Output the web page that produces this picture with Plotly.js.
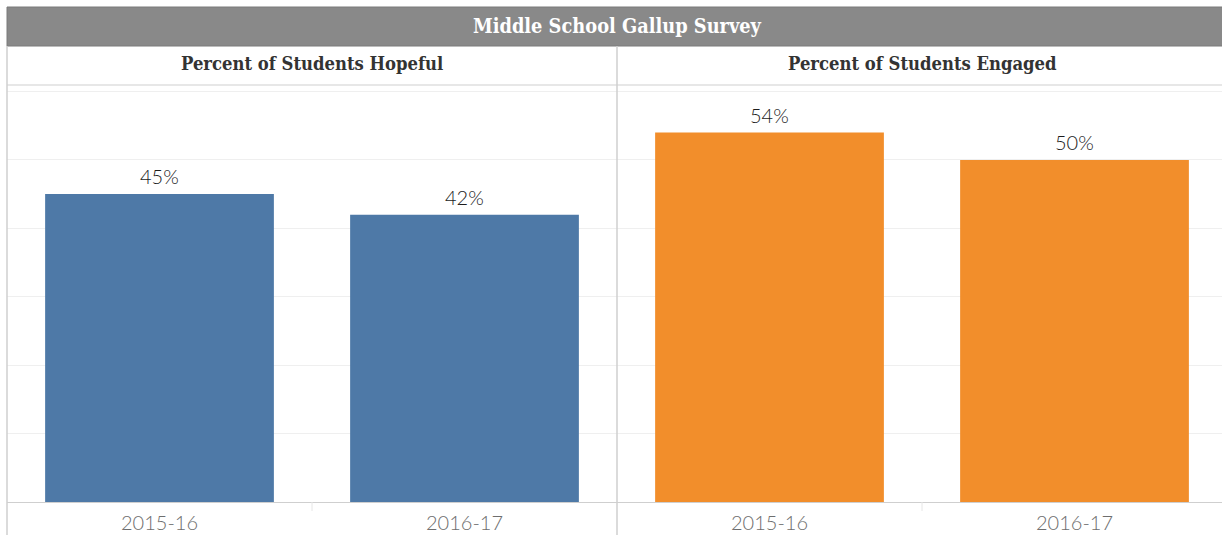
<!DOCTYPE html>
<html>
<head>
<meta charset="utf-8">
<script src="https://cdn.plot.ly/plotly-3.0.1.min.js"></script>
<style>
html,body{margin:0;padding:0;overflow:hidden;background:#fff;}
#chart{width:1227px;height:535px;}
</style>
</head>
<body>
<div id="chart"></div>
<script>
const mainTitle = 'Middle School Gallup Survey';
const panelTitles = ['Percent of Students Hopeful', 'Percent of Students Engaged'];
const categories = ['2015-16', '2016-17'];
const hopeful = [45, 42];
const engaged = [54, 50];
const yTicks = [0, 10, 20, 30, 40, 50, 60];

const labelFont = {family: 'Lato, "Noto Sans", sans-serif', size: 20, color: '#1c1c1c', weight: 300};
const tickFont = {family: 'Lato, "Noto Sans", sans-serif', size: 20, color: '#6e6e6e', weight: 300};
const serifBold = '"DejaVu Serif Condensed", "DejaVu Serif", serif';

const traces = [
  {type: 'bar', x: categories, y: hopeful, xaxis: 'x', yaxis: 'y',
   marker: {color: '#4e79a7'}, width: 0.75, hoverinfo: 'x+y'},
  {type: 'bar', x: categories, y: engaged, xaxis: 'x2', yaxis: 'y2',
   marker: {color: '#f28e2b'}, width: 0.75, hoverinfo: 'x+y'}
];

const plotH = 535 - 86 - 33;
const py = px => (502 - px) / plotH; // convert page y pixel to paper y

const yaxisBase = {range: [0, 60.8], tickvals: yTicks, showticklabels: false,
  showgrid: true, gridcolor: '#efefef', gridwidth: 1, zeroline: false, fixedrange: true};
const xaxisBase = {type: 'category', showline: true, linecolor: '#cfcfcf', linewidth: 1,
  ticks: '', tickfont: tickFont, ticklabelstandoff: 3, showgrid: false, fixedrange: true};

const shapes = [
  {type: 'rect', xref: 'paper', yref: 'paper', x0: 0, x1: 1, y0: py(46), y1: py(7),
   fillcolor: '#898989', line: {color: '#7a7a7a', width: 1}, layer: 'below'},
  {type: 'line', xref: 'paper', yref: 'paper', x0: 0, x1: 1, y0: py(85), y1: py(85),
   line: {color: '#cfcfcf', width: 1}},
  {type: 'line', xref: 'paper', yref: 'paper', x0: 0, x1: 0, y0: py(535), y1: py(46),
   line: {color: '#cfcfcf', width: 1.5}},
  {type: 'line', xref: 'paper', yref: 'paper', x0: 0.5, x1: 0.5, y0: py(535), y1: py(46),
   line: {color: '#cfcfcf', width: 1.5}},
  {type: 'line', xref: 'x', yref: 'paper', x0: 0.5, x1: 0.5, y0: 0, y1: py(511),
   line: {color: '#e6e6e6', width: 1}},
  {type: 'line', xref: 'x2', yref: 'paper', x0: 0.5, x1: 0.5, y0: 0, y1: py(511),
   line: {color: '#e6e6e6', width: 1}}
];

const annotations = [
  {text: '<b>' + mainTitle + '</b>', xref: 'paper', yref: 'paper', x: 0.5, y: py(26),
   xanchor: 'center', yanchor: 'middle', showarrow: false,
   font: {family: serifBold, size: 19.8, color: '#ffffff'}},
  {text: '<b>' + panelTitles[0] + '</b>', xref: 'paper', yref: 'paper', x: 0.25, y: py(64),
   xanchor: 'center', yanchor: 'middle', showarrow: false,
   font: {family: serifBold, size: 18.3, color: '#333333'}},
  {text: '<b>' + panelTitles[1] + '</b>', xref: 'paper', yref: 'paper', x: 0.75, y: py(64),
   xanchor: 'center', yanchor: 'middle', showarrow: false,
   font: {family: serifBold, size: 18.3, color: '#333333'}}
];

categories.forEach((c, i) => {
  annotations.push({text: hopeful[i] + '%', x: c, y: hopeful[i], xref: 'x', yref: 'y',
    xanchor: 'center', yanchor: 'bottom', yshift: 4, showarrow: false, font: labelFont});
  annotations.push({text: engaged[i] + '%', x: c, y: engaged[i], xref: 'x2', yref: 'y2',
    xanchor: 'center', yanchor: 'bottom', yshift: 4, showarrow: false, font: labelFont});
});

const layout = {
  width: 1227, height: 535,
  margin: {l: 7, r: 0, t: 86, b: 33, pad: 0},
  paper_bgcolor: '#ffffff', plot_bgcolor: '#ffffff',
  showlegend: false, bargap: 0.25,
  xaxis: Object.assign({}, xaxisBase, {domain: [0, 0.5], anchor: 'y'}),
  xaxis2: Object.assign({}, xaxisBase, {domain: [0.5, 1], anchor: 'y2'}),
  yaxis: Object.assign({}, yaxisBase, {anchor: 'x'}),
  yaxis2: Object.assign({}, yaxisBase, {anchor: 'x2'}),
  shapes: shapes,
  annotations: annotations
};

Plotly.newPlot('chart', traces, layout, {displayModeBar: false, staticPlot: true});
</script>
</body>
</html>
